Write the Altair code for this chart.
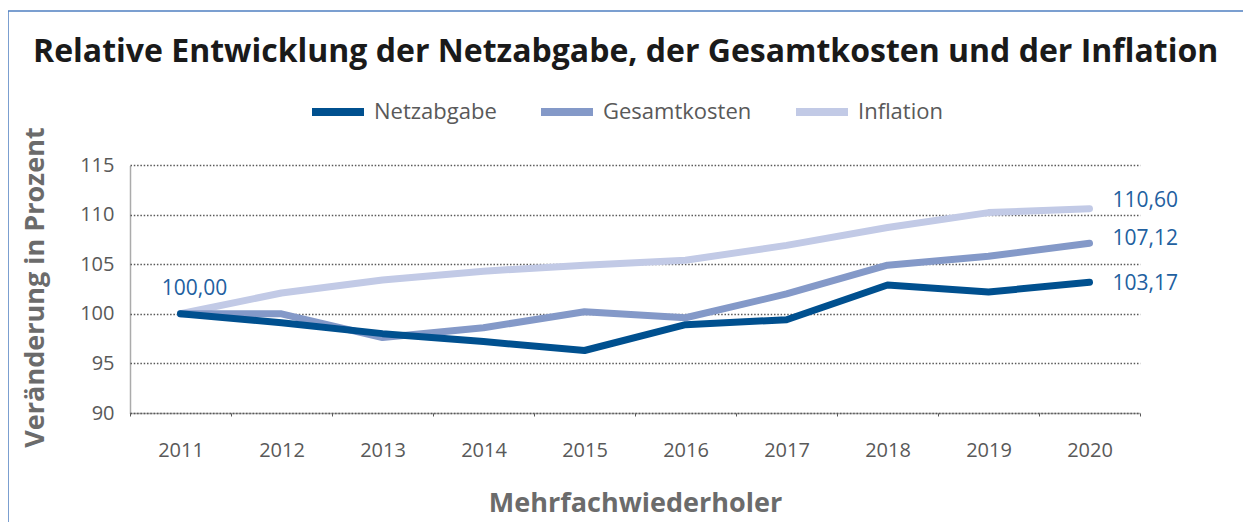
import altair as alt
import pandas as pd

years = [2011, 2012, 2013, 2014, 2015, 2016, 2017, 2018, 2019, 2020]
series = ["Netzabgabe", "Gesamtkosten", "Inflation"]
netzabgabe = [100.00, 99.1, 98.0, 97.2, 96.3, 98.9, 99.4, 102.9, 102.2, 103.17]
gesamtkosten = [100.00, 100.0, 97.6, 98.6, 100.2, 99.6, 102.0, 104.9, 105.8, 107.12]
inflation = [100.00, 102.1, 103.4, 104.3, 104.9, 105.4, 106.9, 108.7, 110.2, 110.60]
colors = ["#00508f", "#8499c8", "#c2cae6"]
y_ticks = [90, 95, 100, 105, 110, 115]

TITLE = "Relative Entwicklung der Netzabgabe, der Gesamtkosten und der Inflation"
Y_TITLE = "Veränderung in Prozent"
X_TITLE = "Mehrfachwiederholer"

rows = []
for name, vals in zip(series, [netzabgabe, gesamtkosten, inflation]):
    for yr, v in zip(years, vals):
        rows.append({"Jahr": str(yr), "Reihe": name, "Wert": v,
                     "Label": f"{v:.2f}".replace(".", ",")})
df = pd.DataFrame(rows)

FONT = "Open Sans"
GRAY = "#595959"
LABEL_BLUE = "#22609f"

x_enc = alt.X("Jahr:O", bandPosition=0.5,
              scale=alt.Scale(type="band", paddingInner=0, paddingOuter=0),
              axis=alt.Axis(title=X_TITLE, labelAngle=0, tickBand="extent",
                            labelFont=FONT, labelFontSize=20, labelColor=GRAY,
                            labelPadding=24, domainDash=[1, 1], domainColor=GRAY,
                            domainWidth=1.5, tickSize=3, tickColor=GRAY,
                            titleFont=FONT, titleFontSize=27, titleFontWeight="bold",
                            titleColor="#6b6b6b", titleBaseline="alphabetic",
                            titleY=98, grid=False))
y_enc = alt.Y("Wert:Q",
              scale=alt.Scale(domain=[90, 115], nice=False, zero=False),
              axis=alt.Axis(title=Y_TITLE, values=y_ticks, tickSize=0,
                            labelFont=FONT, labelFontSize=20, labelColor=GRAY,
                            labelPadding=16, domainDash=[1, 1], domainColor=GRAY,
                            domainWidth=1.5, grid=True, gridDash=[1.5, 1.8],
                            gridColor=GRAY, gridWidth=1.5,
                            titleFont=FONT, titleFontSize=27, titleFontWeight="bold",
                            titleColor="#6b6b6b", titleAngle=-90,
                            titleBaseline="alphabetic", titleAlign="center",
                            titleX=-87, titleY=122))
color_enc = alt.Color("Reihe:N",
                      scale=alt.Scale(domain=series, range=colors),
                      legend=alt.Legend(orient="none", legendX=178, legendY=-83,
                                        direction="horizontal", columns=3, title=None,
                                        symbolType="stroke", symbolSize=2704,
                                        symbolStrokeWidth=8, labelFont=FONT,
                                        labelFontSize=22, labelColor=GRAY,
                                        columnPadding=28, labelOffset=6, padding=0))

base = alt.Chart(df)
layers = []
for name in ["Inflation", "Gesamtkosten", "Netzabgabe"]:
    layers.append(base.transform_filter(alt.datum.Reihe == name)
                  .mark_line(strokeWidth=7, strokeCap="round", strokeJoin="round")
                  .encode(x=x_enc, y=y_enc, color=color_enc))

end_dy = {"Inflation": -8, "Gesamtkosten": -4, "Netzabgabe": 2}
for name in series:
    layers.append(base.transform_filter((alt.datum.Reihe == name) & (alt.datum.Jahr == "2020"))
                  .mark_text(align="left", baseline="middle", dx=23, dy=end_dy[name],
                             font=FONT, fontSize=21, color=LABEL_BLUE)
                  .encode(x=alt.X("Jahr:O", bandPosition=0.5), y="Wert:Q", text="Label:N"))

layers.append(base.transform_filter((alt.datum.Reihe == "Netzabgabe") & (alt.datum.Jahr == "2011"))
              .mark_text(align="center", baseline="middle", dx=14, dy=-25,
                         font=FONT, fontSize=21, color=LABEL_BLUE)
              .encode(x=alt.X("Jahr:O", bandPosition=0.5), y="Wert:Q", text="Label:N"))

one = pd.DataFrame({"t": [TITLE]})
layers.append(alt.Chart(one).mark_text(align="left", baseline="alphabetic", font=FONT,
                                       fontSize=32, fontWeight="bold", color="#1a1a1a")
              .encode(text="t:N", x=alt.value(-97), y=alt.value(-103)))

border_color = "#4f7fc0"
layers.append(alt.Chart(one).mark_rule(color=border_color, strokeWidth=1.5)
              .encode(x=alt.value(-122), x2=alt.value(1200), y=alt.value(-154)))
layers.append(alt.Chart(one).mark_rule(color=border_color, strokeWidth=1.5)
              .encode(x=alt.value(-122), y=alt.value(-154), y2=alt.value(400)))

chart = alt.layer(*layers).properties(
    width=1010, height=248,
    autosize=alt.AutoSizeParams(type="none"),
    padding={"left": 122, "top": 157, "right": 103, "bottom": 109},
).configure_view(stroke=None)

chart.save("out.html", embed_options={"renderer": "svg", "actions": False})
